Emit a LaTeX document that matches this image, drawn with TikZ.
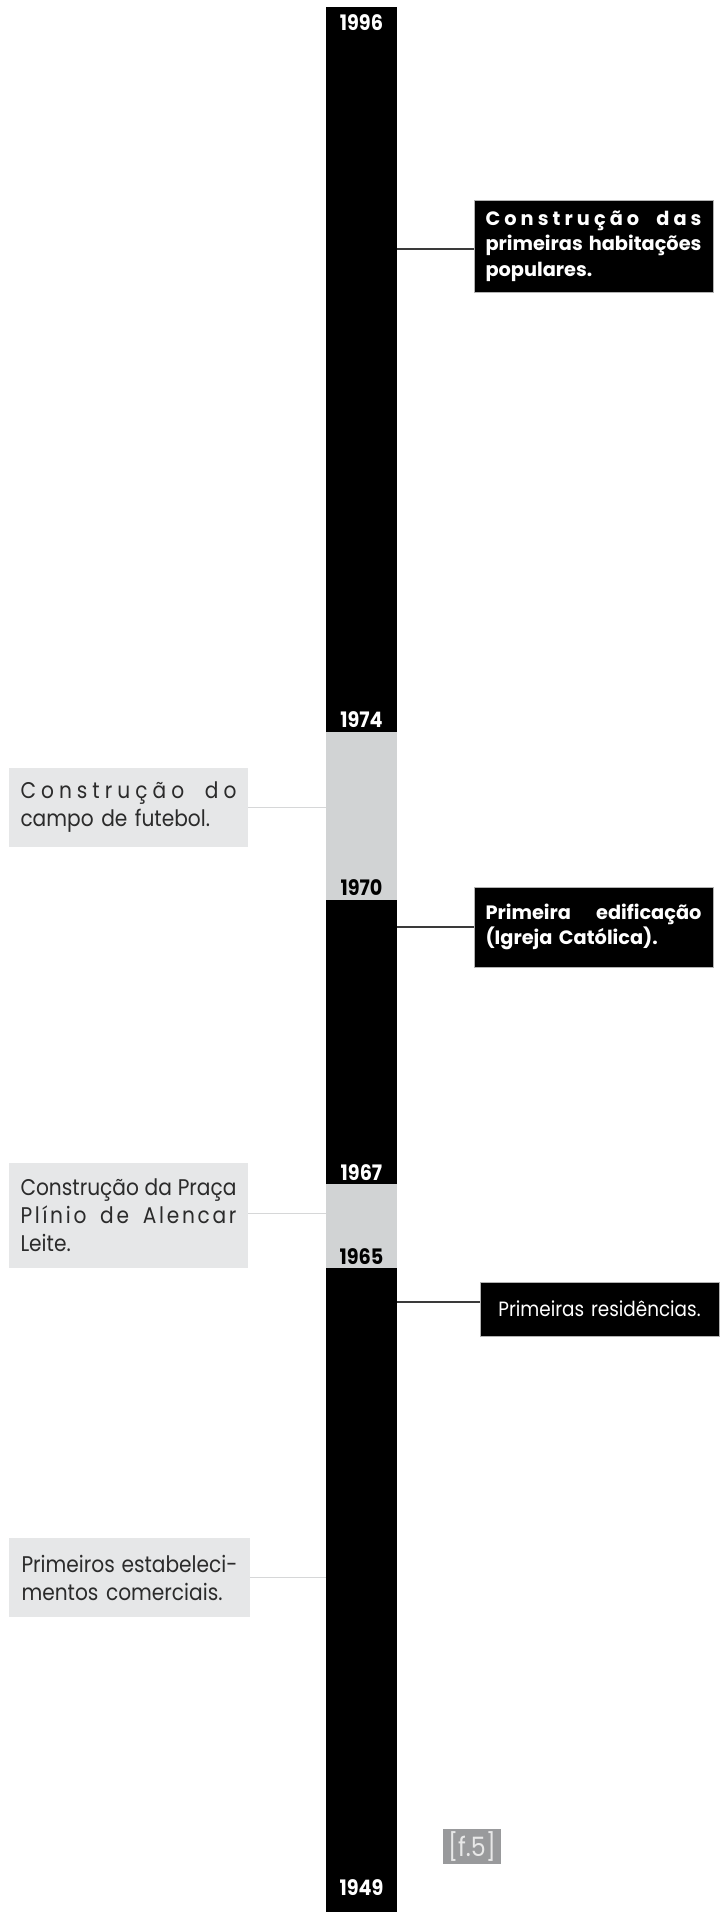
\documentclass[tikz,border=0pt]{standalone}
\usepackage{fontspec}
\setmainfont{Poppins}
\newfontfamily\bodyf[FakeStretch=0.89]{Poppins}
\newfontfamily\boldf[FakeStretch=1.0]{Poppins}
\newfontfamily\yearf[FakeStretch=0.9]{Poppins}
\usetikzlibrary{fit}
\definecolor{barGray}{HTML}{D1D3D4}
\definecolor{boxGray}{HTML}{E6E7E8}
\definecolor{txtGray}{HTML}{2B2B2B}
\definecolor{lineDark}{HTML}{3A3A3A}
\definecolor{lineLight}{HTML}{D6D7D8}
\definecolor{fGray}{HTML}{999A9C}
\definecolor{fTxt}{HTML}{E8E8E8}
\def\ls#1{\lsaux#1\relax}
\def\lsaux#1{\ifx\relax#1\else#1\hfil\expandafter\lsaux\fi}
\newcommand\spreadline[1]{\leavevmode\hbox to\linewidth{#1\unskip}}
\newcommand\wsp{\hskip .25em plus 2fil}
\tikzset{
  year/.style={font=\yearf\bfseries\fontsize{16}{16}\selectfont, inner sep=0pt},
  gbox/.style={fill=boxGray, text=txtGray, inner sep=0pt, text width=162pt, align=left,
    font=\bodyf\fontsize{17}{21}\selectfont},
  bbox/.style={fill=black, draw=gray!60, line width=0.5pt, text=white, inner sep=0pt, text width=162pt, align=left,
    font=\boldf\bfseries\fontsize{14.5}{19.2}\selectfont},
  lline/.style={draw=lineLight, line width=1pt},
  rline/.style={draw=lineDark, line width=1pt},
}
\begin{document}
\begin{tikzpicture}[x=0.75pt,y=-0.75pt]
\useasboundingbox[fill=white] (0,0) rectangle (727,1912);
% bar
\node[fit={(326,7)(397,1912)}, inner sep=0pt, fill=black] (bar) {};
\node[fit={(326,732)(397,900)}, inner sep=0pt, fill=barGray] (seg1) {};
\node[fit={(326,1184)(397,1268)}, inner sep=0pt, fill=barGray] (seg2) {};
% years
\node[year, text=white] (y1996) at (361.5,23) {1996};
\node[year, text=white] (y1974) at (361.5,720) {1974};
\node[year, text=black] (y1970) at (361.5,888) {1970};
\node[year, text=white] (y1967) at (361.5,1173) {1967};
\node[year, text=black] (y1965) at (361.5,1257) {1965};
\node[year, text=white] (y1949) at (361.5,1888) {1949};
% left boxes
\node[gbox, minimum width=179.25pt, minimum height=59.25pt] (campo) at (128.5,807.5)
  {\spreadline{\ls{Construção}\wsp\ls{do}}\\campo de futebol.};
\node[gbox, minimum width=179.25pt, minimum height=78.75pt] (praca) at (128.5,1215.5)
  {\spreadline{Construção\wsp da\wsp Praça}\\
   \spreadline{\ls{Plínio}\wsp\ls{de}\wsp\ls{Alencar}}\\Leite.};
\node[gbox, minimum width=180.75pt, minimum height=59.25pt] (estab) at (129.5,1577.5)
  {\spreadline{Primeiros\wsp estabeleci-}\\mentos comerciais.};
% right boxes
\node[bbox, minimum width=179.25pt, minimum height=69pt] (hab) at (593.5,246)
  {\spreadline{\ls{Construção}\wsp\ls{das}}\\
   \spreadline{primeiras\wsp habitações}\\populares.};
\node[bbox, minimum width=179.25pt, minimum height=60pt, font=\boldf\bfseries\fontsize{14.5}{16}\selectfont] (igreja) at (593.5,927)
  {\spreadline{Primeira\wsp edificação}\\(Igreja Católica).};
\node[bbox, minimum width=179.25pt, minimum height=40.5pt, align=center, font=\bodyf\fontsize{15.5}{16}\selectfont] (resid) at (599.5,1309)
  {Primeiras residências.};
\node[fill=fGray, text=fTxt, inner sep=0pt, minimum width=43.5pt, minimum height=26.25pt,
  font=\bodyf\fontsize{20}{20}\selectfont] (f5) at (472,1846.5) {[f.5]};
% connectors
\draw[lline] (campo.east) -- (campo.east -| seg1.west);
\draw[lline] ([yshift=1.5pt]praca.east) -- ([yshift=1.5pt]praca.east -| seg2.west);
\draw[lline] (estab.east) -- (estab.east -| bar.west);
\draw[rline] ([yshift=-2.25pt]hab.west) -- ([yshift=-2.25pt]hab.west -| bar.east);
\draw[rline] (igreja.west) -- (igreja.west -| bar.east);
\draw[rline] ([yshift=5.25pt]resid.west) -- ([yshift=5.25pt]resid.west -| bar.east);
\end{tikzpicture}
\end{document}
